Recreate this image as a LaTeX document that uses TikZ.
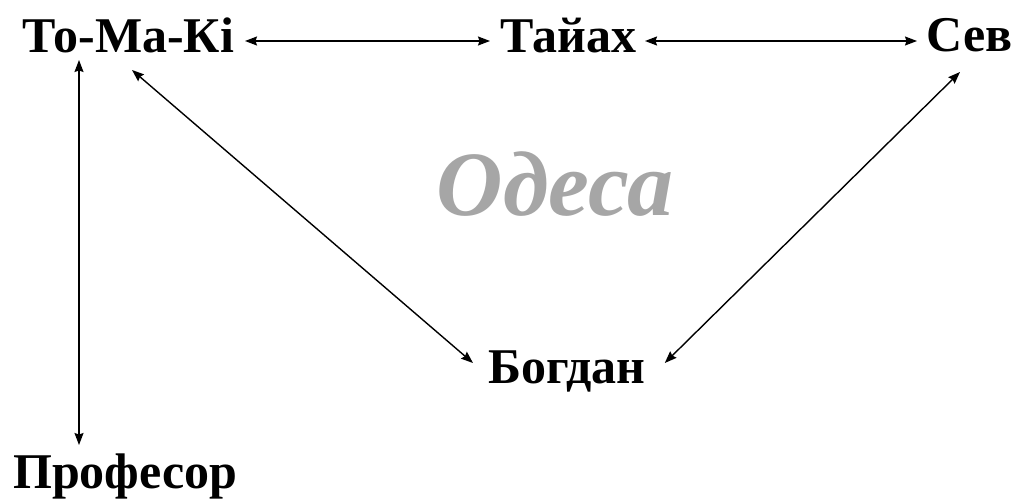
\documentclass[tikz,border=0pt]{standalone}
\usepackage{fontspec}
\setmainfont{Liberation Serif}
\usetikzlibrary{arrows.meta}
\begin{document}
\begin{tikzpicture}[x=1pt,y=-1pt,
  lbl/.style={inner sep=0pt,font=\fontsize{50}{50}\selectfont\bfseries},
  city/.style={inner sep=0pt,text=black!35,font=\fontsize{92}{92}\selectfont\bfseries\itshape},
  arr/.style={{Stealth[length=12pt,width=9pt,inset=1.5pt]}-{Stealth[length=12pt,width=9pt,inset=1.5pt]},line width=1.4pt}]
\useasboundingbox (0,0) rectangle (1019,500);
\node[lbl,anchor=base west] (tomaki) at (22,53) {То-Ма-Кі};
\node[lbl,anchor=base west] (tayah) at (500,53) {Тайах};
\node[lbl,anchor=base east] (sev) at (1013,52) {Сев};
\node[lbl,anchor=base west] (bogdan) at (488,383) {Богдан};
\node[lbl,anchor=base west] (prof) at (13,488) {Професор};
\node[city,anchor=base] (odesa) at (555,215) {Одеса};
\draw[arr] ([shift={(223,-12)}]tomaki.base west) -- ([shift={(-10,-12)}]tayah.base west);
\draw[arr] ([shift={(145,-12)}]tayah.base west) -- ([shift={(-96,-11)}]sev.base east);
\draw[arr] ([shift={(57,7)}]tomaki.base west) -- ([shift={(66,-43)}]prof.base west);
\draw[arr] ([shift={(110,17)}]tomaki.base west) -- ([shift={(-15,-20)}]bogdan.base west);
\draw[arr] ([shift={(-53,20)}]sev.base east) -- ([shift={(19,-20)}]bogdan.base east);
\end{tikzpicture}
\end{document}
